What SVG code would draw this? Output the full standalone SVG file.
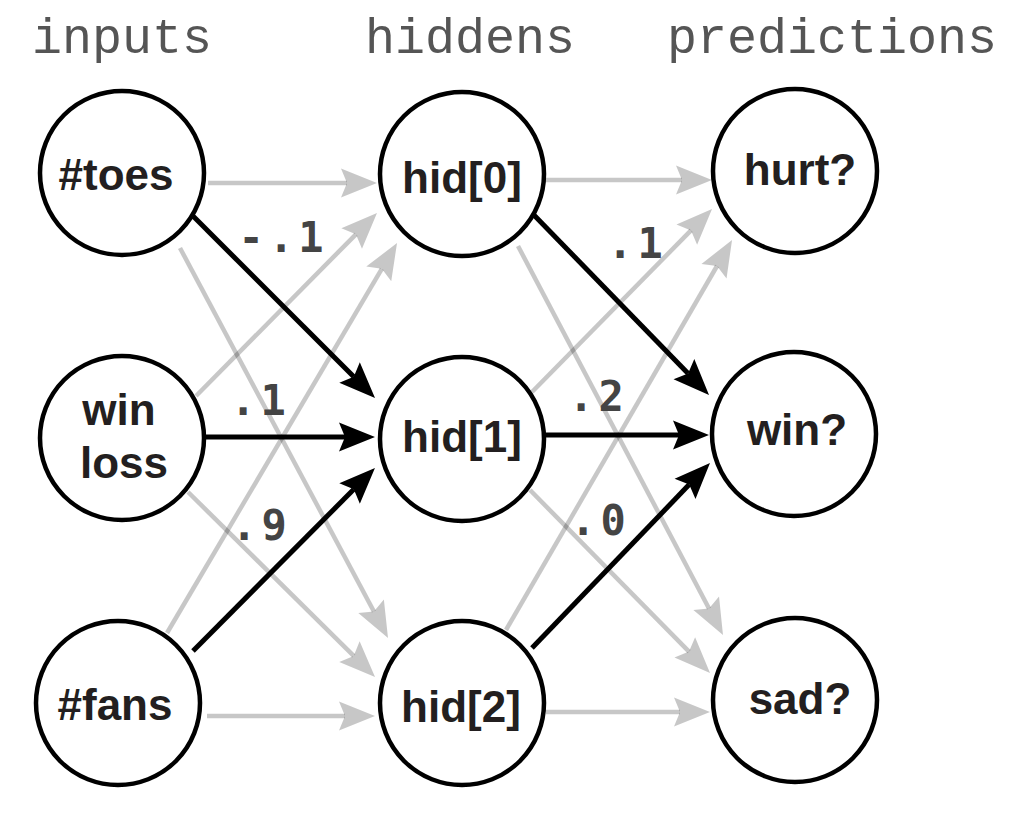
<svg xmlns="http://www.w3.org/2000/svg" width="1034" height="834" viewBox="0 0 1034 834">
<style>
.hdr{font-family:"Liberation Mono","Courier New",monospace;font-size:50px;fill:#555;text-anchor:middle}
.w{font-family:"DejaVu Sans Mono",Menlo,monospace;font-weight:bold;font-size:42px;letter-spacing:4.7px;fill:#444}
.lbl{font-family:"Liberation Sans",Arial,Helvetica,sans-serif;font-weight:bold;font-size:44px;fill:#231f20;text-anchor:middle}
.node{fill:#fff;stroke:#000;stroke-width:4.5}
.g{stroke:#000;stroke-opacity:0.22;stroke-width:4.5;fill:none}
.b{stroke:#000;stroke-width:5;fill:none}
</style>
<defs>
<marker id="ag" markerUnits="userSpaceOnUse" markerWidth="40" markerHeight="32" viewBox="-7 -16 40 32" refX="0" refY="0" orient="auto" overflow="visible">
<path d="M-6,-14.5 L30,0 L-6,14.5 L0,0 Z" fill="#000" fill-opacity="0.22"/>
</marker>
<marker id="ab" markerUnits="userSpaceOnUse" markerWidth="40" markerHeight="32" viewBox="-7 -16 40 32" refX="0" refY="0" orient="auto" overflow="visible">
<path d="M-6,-14.5 L30,0 L-6,14.5 L0,0 Z" fill="#000"/>
</marker>
</defs>
<rect width="1034" height="834" fill="#fff"/>
<g id="headers">
<text class="hdr" x="122" y="53">inputs</text>
<text class="hdr" x="470" y="53">hiddens</text>
<text class="hdr" x="832" y="53">predictions</text>
</g>
<g id="connectors">
<line class="g" x1="208" y1="183" x2="347" y2="183" marker-end="url(#ag)"/>
<line class="g" x1="180" y1="248" x2="373.9" y2="611.5" marker-end="url(#ag)"/>
<line class="g" x1="196" y1="396" x2="355.9" y2="234.3" marker-end="url(#ag)"/>
<line class="g" x1="188" y1="492" x2="353.7" y2="655.9" marker-end="url(#ag)"/>
<line class="g" x1="167" y1="633" x2="381.8" y2="268.8" marker-end="url(#ag)"/>
<line class="g" x1="207" y1="716" x2="345" y2="716" marker-end="url(#ag)"/>
<line class="g" x1="546" y1="180" x2="682" y2="180" marker-end="url(#ag)"/>
<line class="g" x1="518" y1="246" x2="709" y2="608.5" marker-end="url(#ag)"/>
<line class="g" x1="532" y1="392" x2="691" y2="230.4" marker-end="url(#ag)"/>
<line class="g" x1="530" y1="490" x2="689" y2="651.6" marker-end="url(#ag)"/>
<line class="g" x1="506" y1="630" x2="717" y2="266" marker-end="url(#ag)"/>
<line class="g" x1="546" y1="712" x2="680" y2="712" marker-end="url(#ag)"/>
<line class="b" x1="192" y1="215" x2="353.8" y2="376.8" marker-end="url(#ab)"/>
<line class="b" x1="205" y1="437" x2="345" y2="437" marker-end="url(#ab)"/>
<line class="b" x1="193" y1="651" x2="353.8" y2="489.3" marker-end="url(#ab)"/>
<line class="b" x1="531" y1="212" x2="688.1" y2="373.5" marker-end="url(#ab)"/>
<line class="b" x1="543" y1="435" x2="679" y2="435" marker-end="url(#ab)"/>
<line class="b" x1="532" y1="648" x2="689.2" y2="484.6" marker-end="url(#ab)"/>
</g>
<g id="weights">
<text class="w" x="238.4" y="252">-.1</text>
<text class="w" x="230.4" y="415">.1</text>
<text class="w" x="231.4" y="540">.9</text>
<text class="w" x="607.4" y="258">.1</text>
<text class="w" x="568.4" y="411">.2</text>
<text class="w" x="570.4" y="535">.0</text>
</g>
<g id="n-toes"><circle class="node" cx="122" cy="173" r="82"/><text class="lbl" x="116" y="190">#toes</text></g>
<g id="n-winloss"><circle class="node" cx="122" cy="438" r="82"/><text class="lbl" x="119" y="425">win</text><text class="lbl" x="124" y="478">loss</text></g>
<g id="n-fans"><circle class="node" cx="118" cy="703" r="82"/><text class="lbl" x="115" y="720">#fans</text></g>
<g id="n-hid0"><circle class="node" cx="462" cy="174" r="82"/><text class="lbl" x="462" y="193">hid[0]</text></g>
<g id="n-hid1"><circle class="node" cx="462" cy="439" r="82"/><text class="lbl" x="462" y="452">hid[1]</text></g>
<g id="n-hid2"><circle class="node" cx="462" cy="703" r="82"/><text class="lbl" x="461" y="722">hid[2]</text></g>
<g id="n-hurt"><circle class="node" cx="795" cy="171" r="82"/><text class="lbl" x="800" y="185">hurt?</text></g>
<g id="n-win"><circle class="node" cx="794" cy="434" r="82"/><text class="lbl" x="797" y="445">win?</text></g>
<g id="n-sad"><circle class="node" cx="795" cy="700" r="82"/><text class="lbl" x="800" y="714">sad?</text></g>
</svg>
